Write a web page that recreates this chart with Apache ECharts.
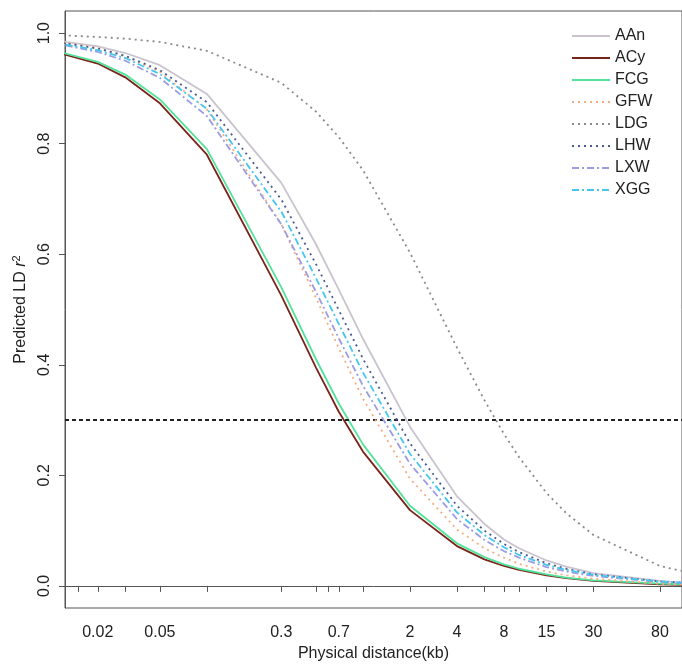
<!DOCTYPE html>
<html>
<head>
<meta charset="utf-8">
<script src="https://cdn.jsdelivr.net/npm/echarts@6/dist/echarts.min.js"></script>
<style>html,body{margin:0;padding:0;background:#fff}#c{width:682px;height:668px}</style>
</head>
<body>
<div id="c"></div>
<script>
var distances = [0.01, 0.02, 0.03, 0.05, 0.1, 0.3, 0.5, 0.7, 1, 2, 4, 6, 8, 10, 15, 20, 30, 80, 110];
var AAn = [0.988, 0.976, 0.964, 0.942, 0.890, 0.729, 0.618, 0.536, 0.447, 0.288, 0.162, 0.112, 0.084, 0.068, 0.046, 0.035, 0.023, 0.009, 0.006];
var ACy = [0.968, 0.945, 0.920, 0.873, 0.780, 0.525, 0.395, 0.315, 0.243, 0.137, 0.072, 0.048, 0.036, 0.029, 0.019, 0.014, 0.009, 0.003, 0.002];
var FCG = [0.970, 0.948, 0.925, 0.880, 0.790, 0.540, 0.410, 0.330, 0.256, 0.145, 0.077, 0.052, 0.039, 0.031, 0.021, 0.015, 0.010, 0.004, 0.003];
var GFW = [0.987, 0.973, 0.958, 0.930, 0.862, 0.654, 0.521, 0.430, 0.339, 0.194, 0.102, 0.068, 0.051, 0.040, 0.026, 0.019, 0.013, 0.004, 0.003];
var LDG = [0.997, 0.993, 0.990, 0.984, 0.968, 0.910, 0.858, 0.812, 0.752, 0.603, 0.431, 0.336, 0.275, 0.233, 0.168, 0.132, 0.092, 0.036, 0.027];
var LHW = [0.986, 0.972, 0.959, 0.933, 0.875, 0.699, 0.582, 0.499, 0.411, 0.258, 0.145, 0.100, 0.076, 0.061, 0.041, 0.031, 0.021, 0.008, 0.006];
var LXW = [0.983, 0.966, 0.950, 0.919, 0.850, 0.654, 0.532, 0.448, 0.362, 0.221, 0.121, 0.083, 0.063, 0.051, 0.034, 0.026, 0.018, 0.007, 0.005];
var XGG = [0.984, 0.969, 0.955, 0.926, 0.863, 0.677, 0.557, 0.474, 0.386, 0.239, 0.133, 0.092, 0.070, 0.056, 0.038, 0.029, 0.020, 0.008, 0.006];
var threshold = 0.3;
var xTickValues = [0.015, 0.02, 0.03, 0.05, 0.1, 0.3, 0.5, 0.6, 0.7, 1, 2, 4, 6, 8, 10, 15, 20, 30, 80];
var xLabelValues = [0.02, 0.05, 0.3, 0.7, 2, 4, 8, 15, 30, 80];
var yTickValues = [0, 0.2, 0.4, 0.6, 0.8, 1.0];

var seriesDefs = [
  {name: 'AAn', data: AAn, color: '#c9c3cf', type: 'solid'},
  {name: 'ACy', data: ACy, color: '#7a2418', type: 'solid'},
  {name: 'FCG', data: FCG, color: '#52e29c', type: 'solid'},
  {name: 'GFW', data: GFW, color: '#f5ad80', type: [2, 4]},
  {name: 'LDG', data: LDG, color: '#8a8a8a', type: [2, 4]},
  {name: 'LHW', data: LHW, color: '#4a5a8e', type: [2, 4]},
  {name: 'LXW', data: LXW, color: '#9c9ce2', type: [7, 3, 2, 3]},
  {name: 'XGG', data: XGG, color: '#44c6ef', type: [7, 3, 2, 3]}
];

var font = 'Liberation Sans, Arial, sans-serif';
var series = seriesDefs.map(function (d, i) {
  var s = {
    name: d.name,
    type: 'line',
    data: distances.map(function (x, j) { return [x, d.data[j]]; }),
    symbol: 'none',
    clip: true,
    color: d.color,
    lineStyle: {color: d.color, width: 1.8, type: d.type},
    z: 2 + i
  };
  if (i === seriesDefs.length - 1) {
    s.markLine = {
      silent: true,
      symbol: ['none', 'none'],
      label: {show: false},
      lineStyle: {color: '#222', width: 1.8, type: [4, 3]},
      data: [{yAxis: threshold}]
    };
  }
  return s;
});

var chart = echarts.init(document.getElementById('c'), null, {renderer: 'canvas'});
chart.setOption({
  animation: false,
  backgroundColor: '#fff',
  grid: {left: 65, top: 11, right: -2, bottom: 60, show: true, borderColor: '#555', borderWidth: 1},
  legend: {
    orient: 'vertical', left: 566, top: 23,
    itemWidth: 38, itemHeight: 12, itemGap: 6,
    itemStyle: {opacity: 0},
    textStyle: {fontFamily: font, fontSize: 16, color: '#222', padding: [0, 0, 0, 0]},
    data: seriesDefs.map(function (d) { return d.name; })
  },
  xAxis: {
    type: 'log', logBase: 10, min: 0.01233, max: 110.7,
    name: 'Physical distance(kb)', nameLocation: 'middle', nameGap: 37,
    nameTextStyle: {fontFamily: font, fontSize: 16, color: '#222'},
    axisLine: {show: true, lineStyle: {color: '#555'}},
    axisTick: {show: true, inside: false, length: 6, lineStyle: {color: '#555'}, customValues: xTickValues},
    axisLabel: {fontFamily: font, fontSize: 16, color: '#222', margin: 17, customValues: xLabelValues,
      formatter: function (v) { return String(v); }},
    splitLine: {show: false},
    minorTick: {show: false}
  },
  yAxis: {
    type: 'value', min: -0.04, max: 1.04,
    name: '{n|Predicted LD }{i|r}{s|2}', nameLocation: 'middle', nameGap: 35,
    nameTextStyle: {fontFamily: font, fontSize: 16, color: '#222',
      rich: {
        n: {fontFamily: font, fontSize: 16, color: '#222'},
        i: {fontFamily: font, fontSize: 16, fontStyle: 'italic', color: '#222'},
        s: {fontFamily: font, fontSize: 11, color: '#222', verticalAlign: 'top', padding: [0, 0, 8, 0]}
      }},
    axisLine: {show: true, lineStyle: {color: '#555'}},
    axisTick: {show: true, inside: false, length: 6, lineStyle: {color: '#555'}, customValues: yTickValues},
    axisLabel: {fontFamily: font, fontSize: 16, color: '#222', margin: 12, rotate: 90, customValues: yTickValues,
      formatter: function (v) { return Number(v).toFixed(1); }},
    splitLine: {show: false}
  },
  series: series
});
</script>
</body>
</html>
